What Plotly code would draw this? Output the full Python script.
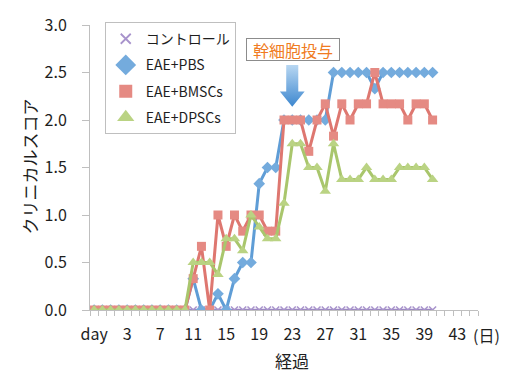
import plotly.graph_objects as go

# Observation days (first point is the baseline column labelled "day")
days = list(range(-1, 41))

# Mean clinical score per group
control = [0, 0, 0, 0, 0, 0, 0, 0, 0, 0, 0, 0,
           0, 0, 0, 0, 0, 0, 0, 0, 0, 0,
           0, 0, 0, 0, 0, 0, 0, 0, 0, 0,
           0, 0, 0, 0, 0, 0, 0, 0, 0, 0]
eae_pbs = [0, 0, 0, 0, 0, 0, 0, 0, 0, 0, 0, 0,
           0.33, 0, 0, 0.17, 0, 0.33, 0.5, 0.5, 1.33, 1.5,
           1.5, 2.0, 2.0, 2.0, 2.0, 2.0, 2.0, 2.5, 2.5, 2.5,
           2.5, 2.5, 2.33, 2.5, 2.5, 2.5, 2.5, 2.5, 2.5, 2.5]
eae_bmscs = [0, 0, 0, 0, 0, 0, 0, 0, 0, 0, 0, 0,
             0.33, 0.67, 0, 1.0, 0.67, 1.0, 0.83, 1.0, 1.0, 0.83,
             0.83, 2.0, 2.0, 2.0, 1.67, 2.0, 2.17, 1.83, 2.17, 2.0,
             2.17, 2.17, 2.5, 2.17, 2.17, 2.17, 2.0, 2.17, 2.17, 2.0]
eae_dpscs = [0, 0, 0, 0, 0, 0, 0, 0, 0, 0, 0, 0,
             0.5, 0.5, 0.5, 0.375, 0.75, 0.75, 0.625, 1.0, 0.875, 0.75,
             0.75, 1.125, 1.75, 1.75, 1.5, 1.5, 1.25, 1.75, 1.375, 1.375,
             1.375, 1.5, 1.375, 1.375, 1.375, 1.5, 1.5, 1.5, 1.5, 1.375]

series_names = ["コントロール", "EAE+PBS", "EAE+BMSCs", "EAE+DPSCs"]

# Category labels on the x axis
tick_days = [-1, 3, 7, 11, 15, 19, 23, 27, 31, 35, 39, 43]
tick_text = ["day", "3", "7", "11", "15", "19", "23", "27", "31", "35", "39", "43"]
y_ticks = [0.0, 0.5, 1.0, 1.5, 2.0, 2.5, 3.0]

injection_day = 23

JP = "Noto Sans CJK JP"
TXT = "#1e1e1e"
AXIS = "#bfbfbf"

styles = [
    dict(line="#9c88c2", marker="#a893cc", symbol="x-thin", size=7, lw=2.5, leg=10),
    dict(line="#5f9dd6", marker="#74abdd", symbol="diamond", size=9, lw=3, leg=16),
    dict(line="#de7770", marker="#e58a83", symbol="square", size=9, lw=3, leg=13),
    dict(line="#a9c66c", marker="#bad383", symbol="triangle-up", size=10, lw=3, leg=15),
]

fig = go.Figure()

for name, vals, st in zip(series_names, [control, eae_pbs, eae_bmscs, eae_dpscs], styles):
    marker = dict(symbol=st["symbol"], size=st["size"], color=st["marker"])
    if st["symbol"] == "x-thin":
        marker["line"] = dict(color=st["marker"], width=1.5)
    fig.add_trace(go.Scatter(
        x=days, y=vals, mode="lines+markers", name=name, showlegend=False,
        line=dict(color=st["line"], width=st["lw"]), marker=marker,
    ))

# Legend entries show the symbol only
for i, (name, st) in enumerate(zip(series_names, styles)):
    marker = dict(symbol=st["symbol"], size=st["leg"], color=st["marker"])
    if st["symbol"] == "x-thin":
        marker["line"] = dict(color=st["marker"], width=1.8)
    fig.add_trace(go.Scatter(
        x=[None], y=[None], mode="markers", name=name, legendgroup=f"g{i}",
        marker=marker,
    ))

# Downward arrow marking the stem-cell administration day
ax = injection_day
arrow_x = [ax - 0.73, ax + 0.73, ax + 0.73, ax + 1.5, ax, ax - 1.5, ax - 0.73, ax - 0.73]
arrow_y = [2.58, 2.58, 2.30, 2.30, 2.14, 2.30, 2.30, 2.58]
fig.add_trace(go.Scatter(
    x=arrow_x, y=arrow_y, mode="lines", fill="toself", showlegend=False,
    line=dict(width=0, color="rgba(0,0,0,0)"), hoverinfo="skip",
    fillgradient=dict(type="vertical", colorscale=[[0, "#3d87cf"], [1, "#b8d7f2"]]),
))

fig.add_annotation(
    x=ax + 0.15, y=2.74, xref="x", yref="y", text="幹細胞投与", showarrow=False,
    font=dict(family=JP, size=16, color="#f07b22"),
    bordercolor="#8c8c8c", borderwidth=1, borderpad=1, bgcolor="white",
    width=90, height=19,
)

# Axis titles and unit label
fig.add_annotation(
    x=-0.156, y=0.505, xref="paper", yref="paper", text="クリニカルスコア",
    xanchor="center", yanchor="middle",
    textangle=-90, showarrow=False, font=dict(family=JP, size=17, color=TXT),
)
fig.add_annotation(
    x=0.52, y=-0.177, xref="paper", yref="paper", text="経過", showarrow=False,
    xanchor="center", yanchor="middle",
    font=dict(family=JP, size=17, color=TXT),
)
fig.add_annotation(
    x=1.021, y=-0.087, xref="paper", yref="paper", text="(日)", showarrow=False,
    xanchor="center", yanchor="middle",
    font=dict(family=JP, size=16, color=TXT),
)

fig.update_layout(
    width=510, height=372,
    margin=dict(l=90, r=32, t=23, b=62),
    paper_bgcolor="white", plot_bgcolor="white",
    font=dict(family=JP, color=TXT),
    legend=dict(
        x=0.038, y=1.01, xanchor="left", yanchor="top",
        bordercolor=AXIS, borderwidth=1, bgcolor="white",
        font=dict(family=JP, size=14, color=TXT),
        tracegroupgap=5, traceorder="grouped",
    ),
    xaxis=dict(
        range=[-1.5, 45.5], showgrid=False, zeroline=False,
        showline=True, linecolor=AXIS, linewidth=1,
        tickmode="array", tickvals=tick_days, ticktext=tick_text,
        ticks="", tickfont=dict(family=JP, size=16, color=TXT),
        ticklabelstandoff=10,
        minor=dict(tick0=0.5, dtick=1, ticks="outside", ticklen=5,
                   tickcolor=AXIS, showgrid=False),
    ),
    yaxis=dict(
        range=[0, 3], showgrid=False, zeroline=False,
        showline=True, linecolor=AXIS, linewidth=1,
        tickmode="array", tickvals=y_ticks, tickformat=".1f",
        ticks="outside", ticklen=7, tickcolor=AXIS,
        tickfont=dict(family=JP, size=16, color=TXT),
        ticklabelstandoff=12,
    ),
)

fig.write_html("out.html")
